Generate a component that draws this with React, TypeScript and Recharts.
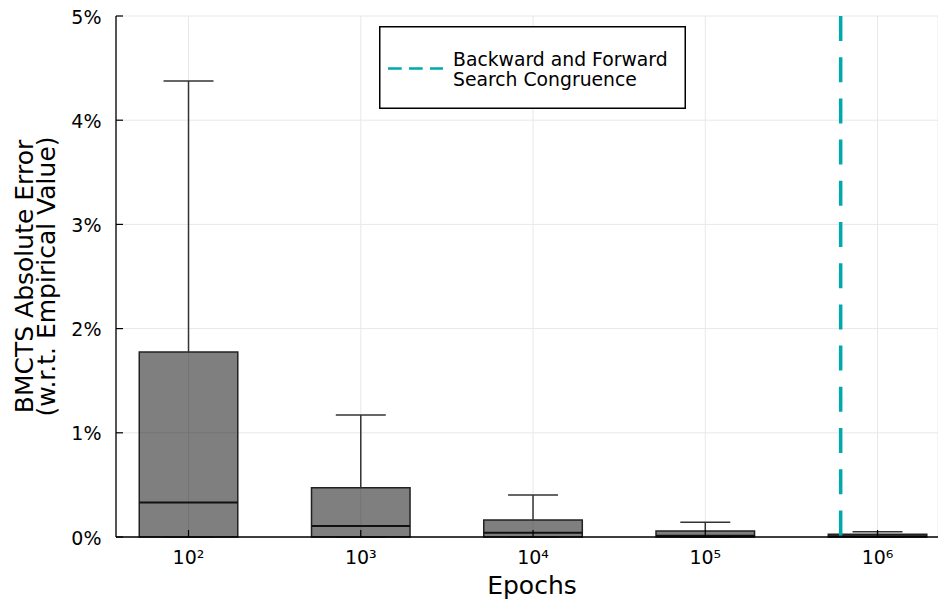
import React from "react";
import {
  ComposedChart,
  XAxis,
  YAxis,
  CartesianGrid,
  ReferenceArea,
  ReferenceLine,
  Scatter,
  Legend,
  Label,
} from "recharts";

// epochs are plotted by their base-10 exponent
const epochExponents = [2, 3, 4, 5, 6];
const epochLabels = ["10²", "10³", "10⁴", "10⁵", "10⁶"];

// absolute error, in percent
const lowerWhisker = [0, 0, 0, 0, 0];
const lowerQuartile = [0, 0, 0, 0, 0];
const medians = [0.33, 0.106, 0.041, 0.012, 0.006];
const upperQuartile = [1.775, 0.473, 0.163, 0.058, 0.026];
const upperWhisker = [4.376, 1.171, 0.403, 0.141, 0.051];

const yTicks = [0, 1, 2, 3, 4, 5];
const congruenceExponent = 5.786;
const legendLines = ["Backward and Forward", "Search Congruence"];

const FONT = "DejaVu Sans";
const TEAL = "#00a9ad";
const BOX_HALF = 0.286;
const CAP_HALF = 0.145;

const points = epochExponents.map((x, i) => ({ x, y: medians[i] }));

const XTick = (props: any) => {
  const { x, y, payload } = props;
  const i = epochExponents.indexOf(payload.value);
  return (
    <g>
      <line x1={x} x2={x} y1={y} y2={y - 7} stroke="#000" strokeWidth={1.2} />
      <text x={x} y={y + 26.5} textAnchor="middle" fontFamily={FONT} fontSize={19} fill="#000">
        {epochLabels[i]}
      </text>
    </g>
  );
};

const YTick = (props: any) => {
  const { x, y, payload } = props;
  return (
    <g>
      <line x1={x} x2={x + 7} y1={y} y2={y} stroke="#000" strokeWidth={1.2} />
      <text x={x - 14.5} y={y + 7.5} textAnchor="end" fontFamily={FONT} fontSize={19} fill="#000">
        {payload.value + "%"}
      </text>
    </g>
  );
};

const YLabel = (props: any) => {
  const vb = props.viewBox;
  const cy = vb.y + vb.height / 2;
  const bx = 33;
  return (
    <text
      transform={`rotate(-90, ${bx}, ${cy})`}
      x={bx}
      y={cy}
      textAnchor="middle"
      fontFamily={FONT}
      fontSize={25}
      fill="#000"
    >
      <tspan x={bx} dy={0}>BMCTS Absolute Error</tspan>
      <tspan x={bx} dy={22}>(w.r.t. Empirical Value)</tspan>
    </text>
  );
};

const XLabel = (props: any) => {
  const vb = props.viewBox;
  return (
    <text x={vb.x + vb.width / 2 + 5} y={594} textAnchor="middle" fontFamily={FONT} fontSize={25} fill="#000">
      Epochs
    </text>
  );
};

const LegendBox = () => (
  <svg width={308} height={84} style={{ display: "block" }}>
    <rect x={0.75} y={0.75} width={305.5} height={81.5} fill="#fff" stroke="#000" strokeWidth={1.5} />
    <line x1={9} x2={64} y1={42.5} y2={42.5} stroke={TEAL} strokeWidth={2.5} strokeDasharray="13.7 7.3" />
    <text x={74} y={39.5} fontFamily={FONT} fontSize={18.8} fill="#000">
      {legendLines[0]}
    </text>
    <text x={74} y={60} fontFamily={FONT} fontSize={18.8} fill="#000">
      {legendLines[1]}
    </text>
  </svg>
);

export default function App() {
  return (
    <div style={{ position: "absolute", left: 0, top: 0 }}>
      <ComposedChart width={938} height={601} margin={{ top: 16, right: 0, bottom: 0, left: 0 }}>
        <CartesianGrid stroke="#e8e8e8" strokeWidth={1} />
        <XAxis
          type="number"
          dataKey="x"
          domain={[1.579, 6.351]}
          allowDataOverflow
          ticks={epochExponents}
          interval={0}
          height={64}
          tickSize={0}
          tickMargin={0}
          tick={<XTick />}
          axisLine={{ stroke: "#000", strokeWidth: 1.3 }}
        >
          <Label content={<XLabel />} />
        </XAxis>
        <YAxis
          type="number"
          dataKey="y"
          domain={[0, 5]}
          allowDataOverflow
          ticks={yTicks}
          interval={0}
          width={116}
          tickSize={0}
          tickMargin={0}
          tick={<YTick />}
          axisLine={{ stroke: "#000", strokeWidth: 1.3 }}
        >
          <Label content={<YLabel />} />
        </YAxis>
        {epochExponents.map((x, i) => (
          <ReferenceArea
            key={"box" + i}
            x1={x - BOX_HALF}
            x2={x + BOX_HALF}
            y1={lowerQuartile[i]}
            y2={upperQuartile[i]}
            fill="#000"
            fillOpacity={0.5}
            stroke="#222"
            strokeWidth={1.5}
            ifOverflow="visible"
          />
        ))}
        {epochExponents.map((x, i) => (
          <ReferenceLine
            key={"uw" + i}
            segment={[{ x, y: upperQuartile[i] }, { x, y: upperWhisker[i] }]}
            stroke="#333"
            strokeWidth={1.5}
            ifOverflow="visible"
          />
        ))}
        {epochExponents.map((x, i) => (
          <ReferenceLine
            key={"lw" + i}
            segment={[{ x, y: lowerQuartile[i] }, { x, y: lowerWhisker[i] }]}
            stroke="#333"
            strokeWidth={1.5}
            ifOverflow="visible"
          />
        ))}
        {epochExponents.map((x, i) => (
          <ReferenceLine
            key={"uc" + i}
            segment={[{ x: x - CAP_HALF, y: upperWhisker[i] }, { x: x + CAP_HALF, y: upperWhisker[i] }]}
            stroke="#333"
            strokeWidth={1.5}
            ifOverflow="visible"
          />
        ))}
        {epochExponents.map((x, i) => (
          <ReferenceLine
            key={"lc" + i}
            segment={[{ x: x - CAP_HALF, y: lowerWhisker[i] }, { x: x + CAP_HALF, y: lowerWhisker[i] }]}
            stroke="#333"
            strokeWidth={1.5}
            ifOverflow="visible"
          />
        ))}
        {epochExponents.map((x, i) => (
          <ReferenceLine
            key={"md" + i}
            segment={[{ x: x - BOX_HALF, y: medians[i] }, { x: x + BOX_HALF, y: medians[i] }]}
            stroke="#111"
            strokeWidth={2}
            ifOverflow="visible"
          />
        ))}
        <ReferenceLine
          segment={[{ x: congruenceExponent, y: 5 }, { x: congruenceExponent, y: 0 }]}
          stroke={TEAL}
          strokeWidth={3.5}
          strokeDasharray="25 16.2"
          ifOverflow="visible"
        />
        <Scatter data={points} isAnimationActive={false} shape={() => <g />} legendType="none" />
        <Legend
          layout="vertical"
          align="center"
          verticalAlign="middle"
          wrapperStyle={{ left: 379, top: 26, width: 308, height: 84 }}
          content={() => <LegendBox />}
        />
      </ComposedChart>
    </div>
  );
}
